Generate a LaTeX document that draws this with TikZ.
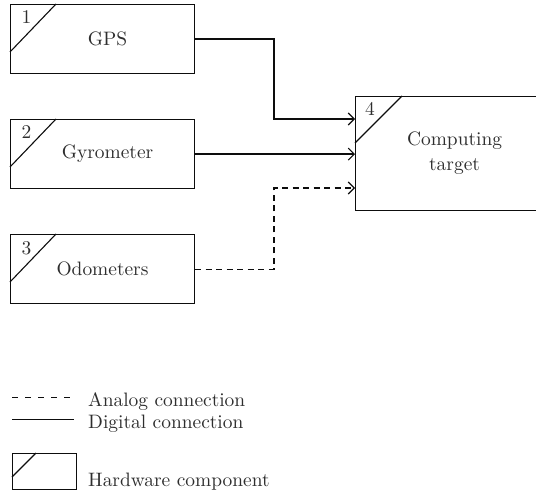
\documentclass[tikz,border=0pt]{standalone}
\usepackage{fontspec}
\setmainfont{lmroman10-regular.otf}
\usetikzlibrary{arrows.meta,calc}
\begin{document}
\begin{tikzpicture}[x=1bp,y=-1bp,
  every node/.style={font=\fontsize{19.5}{25}\selectfont, text=black!82},
  hw/.style={draw=black!95, line width=1.1bp, minimum width=184bp, minimum height=69bp, inner sep=0pt, anchor=north west, align=center},
  num/.style={anchor=base, inner sep=0pt},
  link/.style={draw=black!95, line width=1.1bp},
  tip/.style={-{Straight Barb[length=6bp,width=12bp]}},
  analog/.style={dash pattern=on 6bp off 4.5bp},
  legdash/.style={dash pattern=on 5.5bp off 7.5bp, line width=0.9bp},
  lbl/.style={anchor=base west, inner sep=0pt},
]
\useasboundingbox (0,0) rectangle (536,490);

% component boxes
\node[hw] (gps) at (10,4) {\hspace*{10bp}GPS};
\node[hw] (gyro) at (10,119) {\hspace*{10bp}Gyrometer};
\node[hw] (odo) at (10,234) {Odometers};
\node[hw, minimum width=198bp, minimum height=114bp] (comp) at (355,96) {Computing\\target};

% diagonals
\foreach \b in {gps,gyro,odo}{
  \draw[link] ($(\b.north west)+(0,48)$) -- ($(\b.north west)+(46,0)$);
}
\draw[link] ($(comp.north west)+(0,47)$) -- ($(comp.north west)+(47,0)$);

% numbers
\node[num] (n1) at ($(gps.north west)+(16.5,20)$) {1};
\node[num] (n2) at ($(gyro.north west)+(16.5,20)$) {2};
\node[num] (n3) at ($(odo.north west)+(16.5,20)$) {3};
\node[num] (n4) at ($(comp.north west)+(15,20)$) {4};

% connectors
\coordinate (jx) at (274,0);
\coordinate (in1) at ($(comp.north west)+(0,23)$);
\coordinate (in3) at ($(comp.north west)+(0,92)$);
\draw[link,tip] (gps.east) -- (gps.east -| jx) |- (in1);
\draw[link,tip] (gyro.east) -- (gyro.east -| comp.west);
\draw[link,tip,analog] (odo.east) -- (odo.east -| jx) |- (in3);

% legend
\coordinate (la1) at (12,397);
\coordinate (la2) at (72,397);
\coordinate (ld1) at (12,419.5);
\coordinate (ld2) at (74,419.5);
\draw[link,legdash] (la1) -- (la2);
\draw[link] (ld1) -- (ld2);
\node[lbl] (ta) at (88,406) {Analog connection};
\node[lbl] (td) at (88,428) {Digital connection};
\node[hw, minimum width=64bp, minimum height=36bp] (leg) at (12,453) {};
\draw[link] ($(leg.north west)+(0,24)$) -- ($(leg.north west)+(24,0)$);
\node[lbl] (th) at (88,486) {Hardware component};
\end{tikzpicture}
\end{document}
